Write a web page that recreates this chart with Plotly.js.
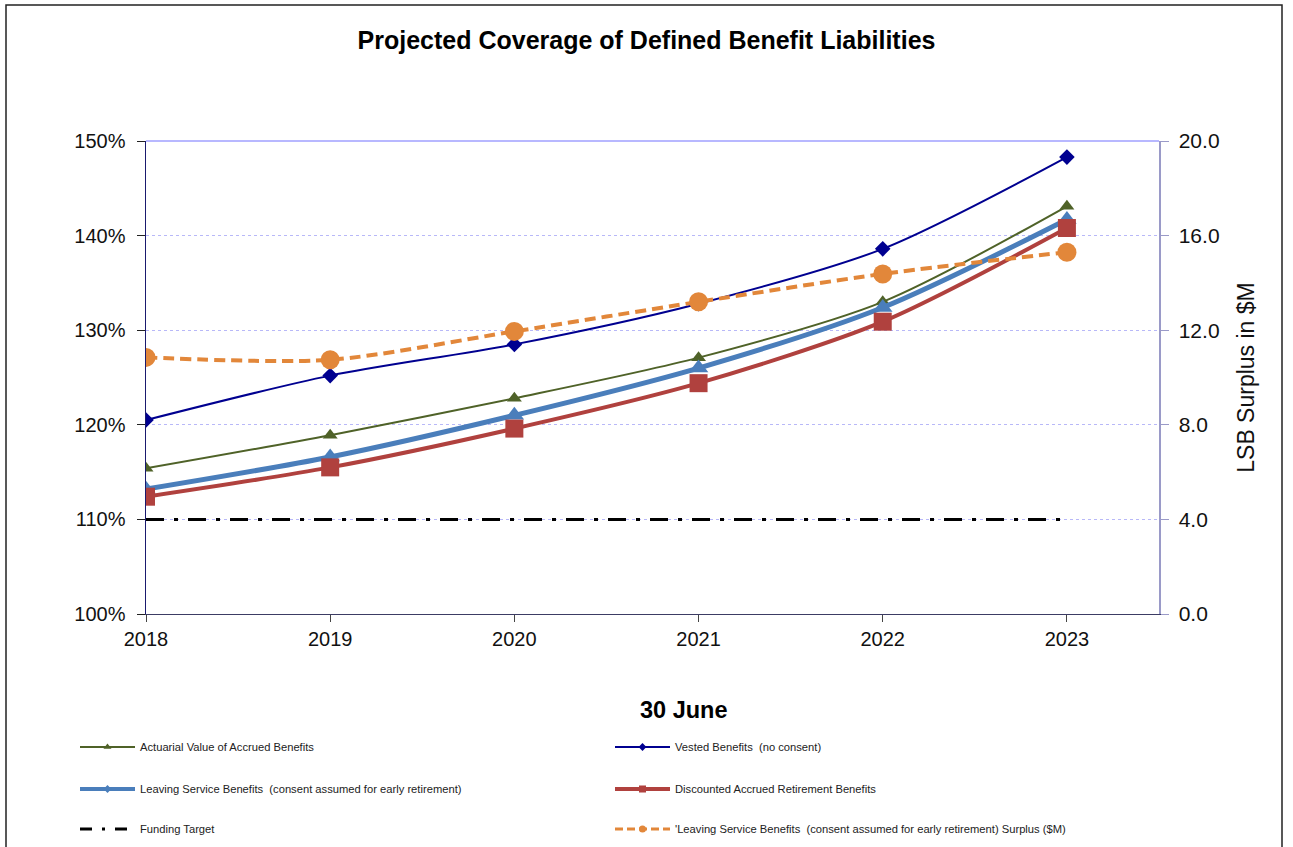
<!DOCTYPE html>
<html><head><meta charset="utf-8">
<script src="https://cdn.plot.ly/plotly-3.0.1.min.js"></script>
<style>body{margin:0;background:#fff}#chart{width:1293px;height:847px}</style>
</head><body><div id="chart"></div><script>
const years = [2018, 2019, 2020, 2021, 2022, 2023];
const actuarial = [115.4, 118.9, 122.8, 127.1, 133.0, 143.1];
const vested = [120.5, 125.2, 128.5, 132.8, 138.6, 148.3];
const leaving = [113.2, 116.6, 121.0, 126.0, 132.4, 141.7];
const discounted = [112.4, 115.5, 119.6, 124.4, 130.9, 140.8];
const fundingTarget = [110, 110, 110, 110, 110, 110];
const surplus = [10.85, 10.75, 11.95, 13.2, 14.38, 15.3];

const names = [
  "Actuarial Value of Accrued Benefits",
  "Vested Benefits&nbsp; (no consent)",
  "Leaving Service Benefits&nbsp; (consent assumed for early retirement)",
  "Discounted Accrued Retirement Benefits",
  "Funding Target",
  "'Leaving Service Benefits&nbsp; (consent assumed for early retirement) Surplus ($M)"
];

const C = {
  green: "#4f6228", navy: "#000090", blue: "#4a7ebb",
  red: "#b0413e", black: "#000000", orange: "#e2873a"
};
const FONT = "Arial, 'Liberation Sans', sans-serif";

const data = [
  {x: years, y: actuarial, mode: "lines+markers", line: {color: C.green, width: 2, shape: "spline", smoothing: 0.8},
   marker: {symbol: "triangle-up", size: 13, color: C.green}, showlegend: false},
  {x: years, y: vested, mode: "lines+markers", line: {color: C.navy, width: 2, shape: "spline", smoothing: 0.8},
   marker: {symbol: "diamond", size: 12, color: C.navy}, showlegend: false},
  {x: years, y: leaving, mode: "lines+markers", line: {color: C.blue, width: 5, shape: "spline", smoothing: 0.8},
   marker: {symbol: "triangle-up", size: 17, color: C.blue}, showlegend: false},
  {x: years, y: discounted, mode: "lines+markers", line: {color: C.red, width: 4, shape: "spline", smoothing: 0.8},
   marker: {symbol: "square", size: 18, color: C.red}, showlegend: false},
  {x: years, y: fundingTarget, mode: "lines", line: {color: C.black, width: 3, dash: "18px,10px,4px,10px"}, showlegend: false},
  {x: years, y: surplus, yaxis: "y2", mode: "lines+markers", line: {color: C.orange, width: 4, dash: "11px,6px", shape: "spline", smoothing: 0.8},
   marker: {symbol: "circle", size: 19, color: C.orange}, showlegend: false},
  // legend entries
  {x: [null], y: [null], name: names[0], mode: "lines+markers", line: {color: C.green, width: 2}, marker: {symbol: "triangle-up", size: 7, color: C.green}, legend: "legend"},
  {x: [null], y: [null], name: names[1], mode: "lines+markers", line: {color: C.navy, width: 2}, marker: {symbol: "diamond", size: 6, color: C.navy}, legend: "legend2"},
  {x: [null], y: [null], name: names[2], mode: "lines+markers", line: {color: C.blue, width: 4}, marker: {symbol: "diamond", size: 6, color: C.blue}, legend: "legend3"},
  {x: [null], y: [null], name: names[3], mode: "lines+markers", line: {color: C.red, width: 4}, marker: {symbol: "square", size: 7, color: C.red}, legend: "legend4"},
  {x: [null], y: [null], name: names[4], mode: "lines", line: {color: C.black, width: 3, dash: "12px,10px,3px,10px"}, legend: "legend5"},
  {x: [null], y: [null], name: names[5], mode: "lines+markers", line: {color: C.orange, width: 3, dash: "8px,4px"}, marker: {symbol: "circle", size: 7, color: C.orange}, legend: "legend6"}
];

const legendBase = {
  xref: "container", yref: "container",
  xanchor: "left", yanchor: "middle", orientation: "v", itemwidth: 55,
  font: {family: FONT, size: 11.2, color: "#222"}, bgcolor: "rgba(0,0,0,0)"
};
function leg(px, py) { return Object.assign({}, legendBase, {x: px / 1293, y: 1 - py / 847}); }

const layout = {
  width: 1293, height: 847,
  margin: {l: 146, r: 134, t: 141, b: 233, autoexpand: false},
  paper_bgcolor: "#ffffff", plot_bgcolor: "#ffffff",
  font: {family: FONT, color: "#111"},
  title: {text: "Projected Coverage of Defined Benefit Liabilities", x: 0.5, xanchor: "center",
          y: 1 - 40 / 847, yanchor: "middle", font: {family: FONT, size: 25, weight: "bold", color: "#000"}},
  xaxis: {range: [2018, 2023.5], tickvals: years, ticks: "outside", ticklen: 7, tickcolor: "#444",
          showline: true, linecolor: "#3c3c64", linewidth: 1, showgrid: false, zeroline: false,
          tickfont: {size: 20, family: FONT, color: "#111"}},
  yaxis: {range: [100, 150], dtick: 10, ticksuffix: "%", ticks: "outside", ticklen: 8, tickcolor: "#222",
          ticklabelstandoff: 7,
          showline: true, linecolor: "#1a1a6e", linewidth: 1.5, gridcolor: "#b8b8f8", griddash: "dot",
          zeroline: false, tickfont: {size: 20, family: FONT, color: "#111"}},
  yaxis2: {overlaying: "y", side: "right", range: [0, 20], dtick: 4, tickformat: ".1f", ticks: "outside",
           ticklen: 8, tickcolor: "#9a9ac8", showline: true, linecolor: "#9a9ac8", linewidth: 1.5,
           ticklabelstandoff: 6,
           showgrid: false, zeroline: false, tickfont: {size: 21, family: FONT, color: "#111"},
           title: {text: "LSB Surplus in $M", standoff: 19, font: {size: 23, family: FONT, color: "#111"}}},
  legend: leg(75, 747),
  legend2: leg(610, 747),
  legend3: leg(75, 789),
  legend4: leg(610, 789),
  legend5: leg(75, 829),
  legend6: leg(610, 829),
  annotations: [
    {text: "<b>30 June</b>", xref: "paper", yref: "paper", x: (684 - 146) / 1013, y: (614 - 710) / 473,
     showarrow: false, xanchor: "center", yanchor: "middle", font: {size: 23.5, family: FONT, color: "#000"}}
  ],
  shapes: [
    {type: "line", xref: "paper", yref: "paper", x0: 0, x1: 1, y0: 1, y1: 1, line: {color: "#b8b8ff", width: 2}},
    {type: "rect", xref: "paper", yref: "paper", x0: (6 - 146) / 1013, x1: (1282 - 146) / 1013,
     y0: (614 - 852) / 473, y1: (614 - 5) / 473, line: {color: "#222", width: 1.5}}
  ]
};

Plotly.newPlot("chart", data, layout, {displayModeBar: false, staticPlot: true});
</script></body></html>
